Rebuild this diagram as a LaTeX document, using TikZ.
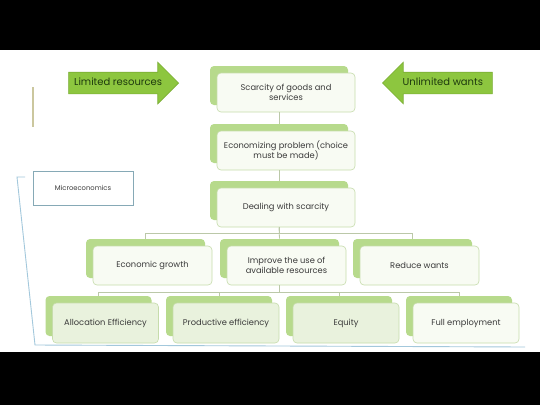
\documentclass[tikz,border=0pt]{standalone}
\usepackage{fontspec}
\setmainfont{Poppins}
\usetikzlibrary{shapes.arrows,shadows}
\definecolor{leafgreen}{HTML}{B7DA8C}
\definecolor{boxfill}{HTML}{F8FBF3}
\definecolor{leaffill}{HTML}{E9F2DD}
\definecolor{boxline}{HTML}{C6DCAB}
\definecolor{connline}{HTML}{BBC8A8}
\definecolor{inkgray}{HTML}{3A3A3A}
\definecolor{arrowgreen}{HTML}{8DC63F}
\definecolor{arrowedge}{HTML}{7BAE35}
\definecolor{arrowink}{HTML}{1E3A0E}
\definecolor{microline}{HTML}{86A9B6}
\definecolor{bracketblue}{HTML}{A3C8DC}
\definecolor{tanline}{HTML}{CBC79E}

\begin{document}
\begin{tikzpicture}[x=1pt,y=-1pt,
  main node/.style={draw=boxline,line width=0.6pt,fill=boxfill,rounded corners=4pt,
    text=inkgray,font=\fontsize{8.3}{10.2}\selectfont,align=center,
    minimum width=138pt,minimum height=39pt,inner sep=2pt,
    general shadow={fill=leafgreen,rounded corners=3pt,shadow xshift=-7pt,shadow yshift=7pt}},
  mid node/.style={main node,minimum width=119pt},
  leaf node/.style={main node,minimum width=106pt,minimum height=40pt,fill=leaffill},
  conn/.style={draw=connline,line width=0.8pt},
  arrowblock/.style={single arrow,draw=arrowedge,line width=0.6pt,fill=arrowgreen,
    single arrow head extend=10pt,minimum height=110pt,text height=7pt,text depth=2pt,
    inner ysep=6pt,inner xsep=4pt,text=arrowink,font=\fontsize{10}{12}\selectfont}]

  \useasboundingbox (0,0) rectangle (540,405);
  \fill[white] (0,0) rectangle (540,405);
  \fill[black] (0,0) rectangle (540,50);
  \fill[black] (0,352) rectangle (540,405);

  % side marks
  \draw[tanline,line width=1.5pt] (33,87) -- (33,127);
  \draw[bracketblue,line width=0.9pt] (25,177) -- (17,177) -- (35,345) -- (525,347);

  \node[draw=microline,line width=0.8pt,fill=white,minimum width=100pt,minimum height=34pt,
    text=inkgray,font=\fontsize{6.8}{8}\selectfont] (micro) at (83,188) {Microeconomics};

  % block arrows
  \node[arrowblock,anchor=tip] (lim) at (179,83) {Limited resources};
  \node[arrowblock,shape border rotate=180,anchor=tip] (unl) at (382,83) {Unlimited wants};

  % the tree
  \node[main node] (0) at (286,92.5) {Scarcity of goods and\\services};
  \node[main node] (1) at (286,150.5) {Economizing problem (choice\\must be made)};
  \node[main node] (2) at (286,207.5) {Dealing with scarcity};
  \node[mid node] (3) at (152.5,265.5) {Economic growth};
  \node[mid node] (4) at (286.5,265.5) {Improve the use of\\available resources};
  \node[mid node] (5) at (419.5,265.5) {Reduce wants};
  \node[leaf node] (6) at (105.5,323) {Allocation Efficiency};
  \node[leaf node] (7) at (226,323) {Productive efficiency};
  \node[leaf node] (8) at (346,323) {Equity};
  \node[leaf node,fill=boxfill] (9) at (466,323) {Full employment};

  \path[conn]
    ([xshift=-7pt]0.south) edge ([xshift=-7pt,yshift=7pt]1.north)
    ([xshift=-7pt]1.south) edge ([xshift=-7pt,yshift=7pt]2.north)
    ([xshift=-7pt]2.south) edge ([xshift=-7pt,yshift=7pt]4.north);
  \draw[conn] ([xshift=-7pt]2.south) -- ++(0,6) -| ([xshift=-7pt,yshift=7pt]3.north);
  \draw[conn] ([xshift=-7pt]2.south) -- ++(0,6) -| ([xshift=-7pt,yshift=7pt]5.north);
  \draw[conn] ([xshift=-7pt]4.south) -- ++(0,7) -| ([xshift=-7pt,yshift=7pt]6.north);
  \draw[conn] ([xshift=-7pt]4.south) -- ++(0,7) -| ([xshift=-7pt,yshift=7pt]7.north);
  \draw[conn] ([xshift=-7pt]4.south) -- ++(0,7) -| ([xshift=-7pt,yshift=7pt]8.north);
  \draw[conn] ([xshift=-7pt]4.south) -- ++(0,7) -| ([xshift=-7pt,yshift=7pt]9.north);
\end{tikzpicture}
\end{document}
